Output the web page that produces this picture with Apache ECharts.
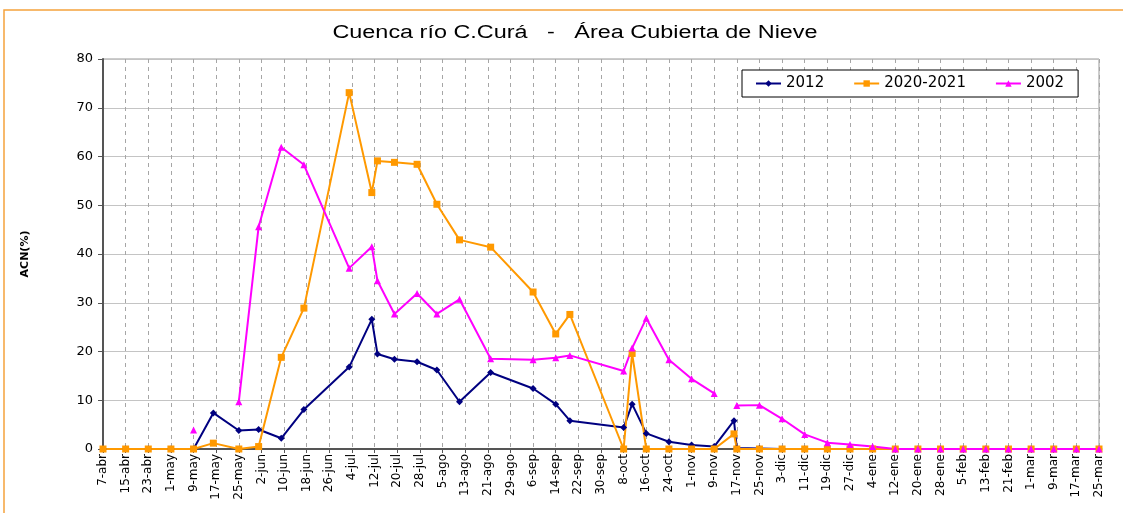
<!DOCTYPE html>
<html>
<head>
<meta charset="utf-8">
<title>Cuenca río C.Curá - Área Cubierta de Nieve</title>
<script src="https://cdn.jsdelivr.net/npm/echarts@6/dist/echarts.min.js"></script>
<style>
  html, body { margin: 0; padding: 0; background: #fff; }
  #chart { width: 1123px; height: 513px; }
</style>
</head>
<body>
<div id="chart"></div>
<script>
// Axis tick labels, one every 8 days from 7-abr to 25-mar
const tickLabels = [
  '7-abr', '15-abr', '23-abr', '1-may', '9-may', '17-may', '25-may', '2-jun', '10-jun',
  '18-jun', '26-jun', '4-jul', '12-jul', '20-jul', '28-jul', '5-ago', '13-ago', '21-ago',
  '29-ago', '6-sep', '14-sep', '22-sep', '30-sep', '8-oct', '16-oct', '24-oct', '1-nov',
  '9-nov', '17-nov', '25-nov', '3-dic', '11-dic', '19-dic', '27-dic', '4-ene', '12-ene',
  '20-ene', '28-ene', '5-feb', '13-feb', '21-feb', '1-mar', '9-mar', '17-mar', '25-mar'
];

// Series 2012
const dates2012 = [
  '7-abr', '15-abr', '23-abr', '1-may', '9-may', '16-may', '25-may', '1-jun', '9-jun',
  '17-jun', '3-jul', '11-jul', '13-jul', '19-jul', '27-jul', '3-ago', '11-ago', '22-ago',
  '6-sep', '14-sep', '19-sep', '8-oct', '11-oct', '16-oct', '24-oct', '1-nov', '9-nov',
  '16-nov', '17-nov', '25-nov', '3-dic', '11-dic', '19-dic', '27-dic', '4-ene', '12-ene',
  '20-ene', '28-ene', '5-feb', '13-feb', '21-feb', '1-mar', '9-mar', '17-mar', '25-mar'
];
const acn2012 = [
  0, 0, 0, 0, 0, 7.4, 3.8, 4.0, 2.2,
  8.1, 16.8, 26.6, 19.5, 18.4, 17.9, 16.2, 9.7, 15.7,
  12.4, 9.2, 5.8, 4.4, 9.2, 3.2, 1.5, 0.8, 0.5,
  5.8, 0.2, 0.1, 0, 0, 0, 0, 0, 0,
  0, 0, 0, 0, 0, 0, 0, 0, 0
];

// Series 2020-2021
const dates2020 = [
  '7-abr', '15-abr', '23-abr', '1-may', '9-may', '16-may', '25-may', '1-jun', '9-jun',
  '17-jun', '3-jul', '11-jul', '13-jul', '19-jul', '27-jul', '3-ago', '11-ago', '22-ago',
  '6-sep', '14-sep', '19-sep', '8-oct', '11-oct', '16-oct', '24-oct', '1-nov', '9-nov',
  '16-nov', '17-nov', '25-nov', '3-dic', '11-dic', '19-dic', '27-dic', '4-ene', '12-ene',
  '20-ene', '28-ene', '5-feb', '13-feb', '21-feb', '1-mar', '9-mar', '17-mar', '25-mar'
];
const acn2020 = [
  0, 0, 0, 0, 0, 1.2, 0, 0.5, 18.8,
  28.9, 73.1, 52.6, 59.1, 58.8, 58.4, 50.2, 42.9, 41.4,
  32.2, 23.6, 27.6, 0, 19.6, 0, 0, 0, 0,
  3.1, 0, 0, 0, 0, 0, 0, 0, 0,
  0, 0, 0, 0, 0, 0, 0, 0, 0
];

// Series 2002 (null = no observation, the line is broken there)
const dates2002 = [
  '9-may', '16-may', '25-may', '1-jun', '9-jun', '17-jun', '3-jul', '11-jul', '13-jul',
  '19-jul', '27-jul', '3-ago', '11-ago', '22-ago', '6-sep', '14-sep', '19-sep', '8-oct',
  '11-oct', '16-oct', '24-oct', '1-nov', '9-nov', '16-nov', '17-nov', '25-nov', '3-dic',
  '11-dic', '19-dic', '27-dic', '4-ene', '12-ene', '20-ene', '28-ene', '5-feb', '13-feb',
  '21-feb', '1-mar', '9-mar', '17-mar', '25-mar'
];
const acn2002 = [
  3.9, null, 9.7, 45.6, 61.9, 58.3, 37.1, 41.5, 34.5,
  27.7, 31.9, 27.7, 30.7, 18.5, 18.3, 18.7, 19.2, 16.0,
  20.7, 26.8, 18.3, 14.4, 11.4, null, 8.9, 9.0, 6.2,
  3.0, 1.3, 0.9, 0.5, 0, 0, 0, 0, 0,
  0, 0, 0, 0, 0
];

// Day-of-season from a "d-mes" label (season starts 7-abr)
const MONTHS = { abr: 3, may: 4, jun: 5, jul: 6, ago: 7, sep: 8, oct: 9, nov: 10, dic: 11, ene: 0, feb: 1, mar: 2 };
function dayOffset(label) {
  const parts = label.split('-');
  const m = MONTHS[parts[1]];
  const y = m >= 3 ? 2001 : 2002;
  return (Date.UTC(y, m, +parts[0]) - Date.UTC(2001, 3, 7)) / 86400000;
}
function pairs(dates, values) {
  return dates.map((d, i) => [dayOffset(d), values[i] == null ? '-' : values[i]]);
}

const FONT = 'DejaVu Sans';

const chart = echarts.init(document.getElementById('chart'), null, { renderer: 'canvas' });

chart.setOption({
  animation: false,
  backgroundColor: '#ffffff',
  graphic: [
    {
      type: 'rect',
      silent: true,
      shape: { x: 4, y: 10, width: 1300, height: 700 },
      style: { fill: 'none', stroke: '#F5A33C', lineWidth: 1.5 }
    },
    {
      type: 'text',
      silent: true,
      x: 575,
      y: 33,
      scaleX: 1.3,
      style: {
        text: 'Cuenca río C.Curá   -   Área Cubierta de Nieve',
        fontFamily: 'Liberation Sans',
        fontSize: 18,
        fill: '#000',
        align: 'center',
        verticalAlign: 'middle',
        textAlign: 'center',
        textVerticalAlign: 'middle'
      }
    }
  ],
  legend: {
    left: 742,
    top: 70,
    orient: 'horizontal',
    padding: [6, 14, 6, 13],
    itemGap: 29,
    itemWidth: 25,
    itemHeight: 8,
    borderColor: '#000',
    borderWidth: 1,
    backgroundColor: '#fff',
    textStyle: { fontFamily: FONT, fontSize: 15, color: '#000' },
    data: ['2012', '2020-2021', '2002']
  },
  grid: {
    left: 103, right: 24, top: 59, bottom: 64,
    outerBoundsMode: 'none',
    show: true, borderColor: '#999', borderWidth: 1
  },
  xAxis: {
    type: 'value',
    min: 0,
    max: 352,
    interval: 8,
    axisLine: { show: true, lineStyle: { color: '#555', width: 2 } },
    axisTick: { show: true, length: 4, lineStyle: { color: '#555' } },
    axisLabel: {
      rotate: 90,
      margin: 5,
      fontFamily: FONT,
      fontSize: 12,
      color: '#000',
      showMinLabel: true,
      showMaxLabel: true,
      formatter: v => tickLabels[Math.round(v / 8)]
    },
    splitLine: { show: true, lineStyle: { color: '#a6a6a6', type: [4, 4], width: 1 } }
  },
  yAxis: {
    type: 'value',
    min: 0,
    max: 80,
    interval: 10,
    name: 'ACN(%)',
    nameLocation: 'middle',
    nameRotate: 90,
    nameGap: 72,
    nameTextStyle: { fontFamily: FONT, fontSize: 11, fontWeight: 'bold', color: '#000' },
    axisLine: { show: true, lineStyle: { color: '#555', width: 2 } },
    axisTick: { show: true, length: 5, lineStyle: { color: '#555' } },
    axisLabel: { margin: 10, fontFamily: FONT, fontSize: 13, color: '#000' },
    splitLine: { show: true, lineStyle: { color: '#c4c4c4', width: 1 } }
  },
  series: [
    {
      name: '2012',
      type: 'line',
      data: pairs(dates2012, acn2012),
      symbol: 'diamond',
      symbolSize: 7,
      connectNulls: false,
      color: '#000080',
      lineStyle: { width: 2, color: '#000080' },
      itemStyle: { color: '#000080' }
    },
    {
      name: '2020-2021',
      type: 'line',
      data: pairs(dates2020, acn2020),
      symbol: 'rect',
      symbolSize: 7,
      connectNulls: false,
      color: '#FF9900',
      lineStyle: { width: 2, color: '#FF9900' },
      itemStyle: { color: '#FF9900' }
    },
    {
      name: '2002',
      type: 'line',
      data: pairs(dates2002, acn2002),
      symbol: 'triangle',
      symbolSize: 7,
      connectNulls: false,
      color: '#FF00FF',
      lineStyle: { width: 2, color: '#FF00FF' },
      itemStyle: { color: '#FF00FF' }
    }
  ]
});
</script>
</body>
</html>
